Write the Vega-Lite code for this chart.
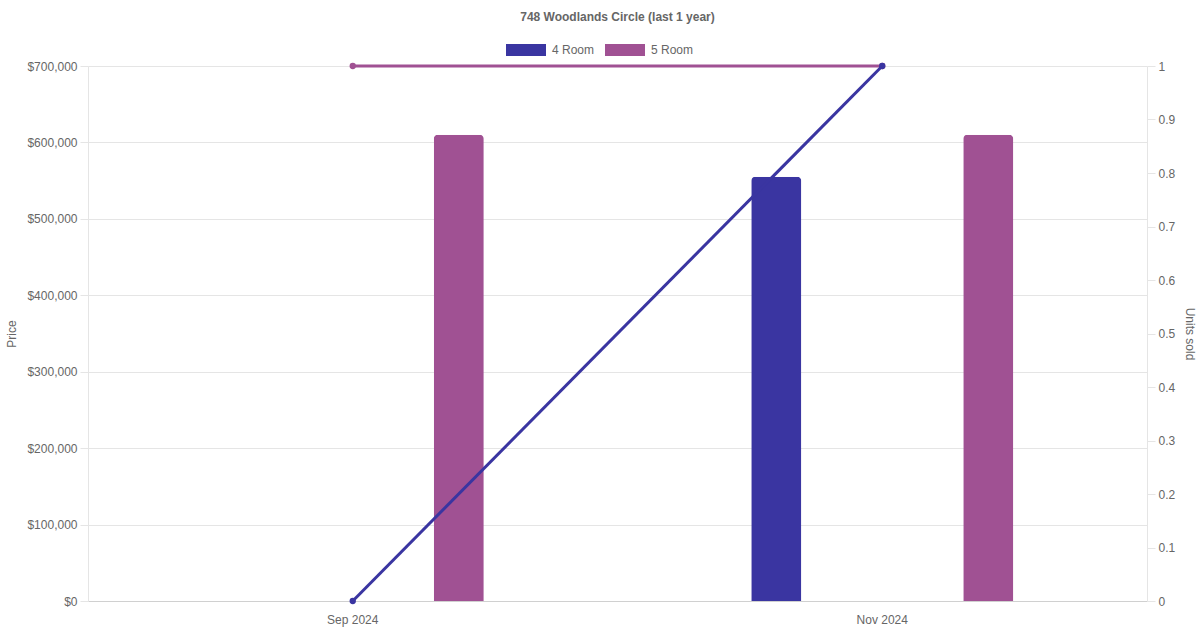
{
  "$schema": "https://vega.github.io/schema/vega-lite/v6.json",
  "autosize": {"type": "none"},
  "padding": {"left": 88, "top": 66, "right": 53, "bottom": 29},
  "width": 1059,
  "height": 535,
  "background": "white",
  "title": {
    "text": "748 Woodlands Circle (last 1 year)",
    "anchor": "middle",
    "frame": "group",
    "orient": "top",
    "offset": 16,
    "fontSize": 12,
    "fontWeight": "bold",
    "color": "#666666",
    "font": "Liberation Sans"
  },
  "config": {
    "font": "Liberation Sans",
    "view": {"stroke": null},
    "axis": {"labelColor": "#666666", "labelFontSize": 12, "titleColor": "#666666", "titleFontSize": 12, "titleFontWeight": "normal", "labelFont": "Liberation Sans", "titleFont": "Liberation Sans"},
    "legend": {"labelColor": "#666666", "labelFontSize": 12, "labelFont": "Liberation Sans"}
  },
  "data": {
    "values": [
      {"month": "Sep 2024", "room": "4 Room", "price": null, "units": 0},
      {"month": "Sep 2024", "room": "5 Room", "price": 610000, "units": 1},
      {"month": "Nov 2024", "room": "4 Room", "price": 555000, "units": 1},
      {"month": "Nov 2024", "room": "5 Room", "price": 610000, "units": 1}
    ]
  },
  "encoding": {
    "x": {
      "field": "month",
      "type": "nominal",
      "sort": ["Sep 2024", "Nov 2024"],
      "scale": {"paddingInner": 0, "paddingOuter": 0},
      "axis": {"title": null, "labelAngle": 0, "ticks": false, "labelPadding": 13, "domainColor": "#d0d0d0", "grid": false}
    },
    "color": {
      "field": "room",
      "type": "nominal",
      "scale": {"domain": ["4 Room", "5 Room"], "range": ["#3a35a1", "#a05193"]},
      "legend": {
        "title": null,
        "orient": "none",
        "direction": "horizontal",
        "legendX": 418,
        "legendY": -26,
        "symbolType": "M-1,-0.6H3V0.6H-1Z",
        "symbolSize": 400,
        "symbolStrokeWidth": 0,
        "symbolOpacity": 1,
        "labelOffset": 26,
        "columnPadding": 10
      }
    }
  },
  "layer": [
    {
      "mark": {"type": "bar", "cornerRadiusTopLeft": 4, "cornerRadiusTopRight": 4},
      "encoding": {
        "xOffset": {"field": "room", "type": "nominal", "scale": {"domain": ["4 Room", "5 Room"], "paddingInner": 0.764, "paddingOuter": 0.6308}},
        "y": {
          "field": "price",
          "type": "quantitative",
          "scale": {"domain": [0, 700000], "nice": false},
          "axis": {
            "title": "Price",
            "format": "$,.0f",
            "values": [0, 100000, 200000, 300000, 400000, 500000, 600000, 700000],
            "grid": true,
            "gridColor": "#e5e5e5",
            "tickColor": "#e5e5e5",
            "domainColor": "#e5e5e5",
            "tickSize": 8,
            "labelPadding": 3,
            "titlePadding": 8
          }
        }
      }
    },
    {
      "layer": [
        {
          "transform": [{"filter": "datum.room === '5 Room'"}],
          "mark": {"type": "line", "strokeWidth": 3, "point": {"filled": true, "size": 40, "opacity": 1}},
          "encoding": {
            "y": {
              "field": "units",
              "type": "quantitative",
              "scale": {"domain": [0, 1], "nice": false},
              "axis": {
                "orient": "right",
                "title": "Units sold",
                "format": ".1~f",
                "values": [0, 0.1, 0.2, 0.3, 0.4, 0.5, 0.6, 0.7, 0.8, 0.9, 1],
                "grid": false,
                "tickColor": "#e5e5e5",
                "domainColor": "#e5e5e5",
                "tickSize": 8,
                "labelPadding": 3,
                "titlePadding": 8
              }
            }
          }
        },
        {
          "transform": [{"filter": "datum.room === '4 Room'"}],
          "mark": {"type": "line", "strokeWidth": 3, "point": {"filled": true, "size": 40, "opacity": 1}},
          "encoding": {
            "y": {"field": "units", "type": "quantitative"}
          }
        }
      ]
    }
  ],
  "resolve": {"scale": {"y": "independent"}}
}
